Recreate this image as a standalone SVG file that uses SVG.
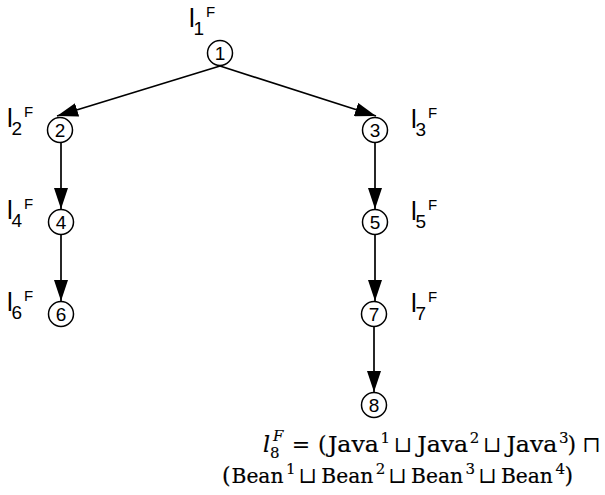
<svg xmlns="http://www.w3.org/2000/svg" width="605" height="495" viewBox="0 0 605 495">
<defs>
<marker id="ah" markerUnits="userSpaceOnUse" markerWidth="22" markerHeight="14" refX="21" refY="7" orient="auto">
<path d="M0,0 L21,7 L0,14 Z" fill="#000"/>
</marker>
<style>
.nd circle{fill:#fff;stroke:#000;stroke-width:1.5}
.nd text{font-family:"Liberation Sans",Arial,sans-serif;font-size:19px;text-anchor:middle;fill:#000}
.lb{font-family:"Liberation Sans",Arial,sans-serif;fill:#000}
.lb .l{font-size:26px}
.lb .d{font-size:19px}
.lb .f{font-size:15px}
.cn line{stroke:#000;stroke-width:1.7;marker-end:url(#ah)}
.fm text{font-family:"DejaVu Serif","Liberation Serif",serif;font-size:22px;fill:#000;stroke:#000;stroke-width:0.2}
.fm .bn{font-size:20.5px}
.fm .sp{font-size:15px;stroke-width:0.15}
.fm .op{text-anchor:middle;stroke:none}
</style>
</defs>
<rect width="605" height="495" fill="#fff"/>
<g id="connectors" class="cn">
<line x1="220" y1="66" x2="57" y2="116"/>
<line x1="220" y1="66" x2="376" y2="116"/>
<line x1="61" y1="143" x2="61" y2="209"/>
<line x1="61" y1="235" x2="61" y2="301"/>
<line x1="375" y1="143" x2="375" y2="209"/>
<line x1="375" y1="235" x2="375" y2="301"/>
<line x1="374" y1="327" x2="374" y2="392"/>
</g>
<g id="n1" class="nd"><circle cx="220" cy="53" r="12.5"/><text x="220" y="60">1</text></g>
<g id="n2" class="nd"><circle cx="60" cy="130" r="12.5"/><text x="60" y="137">2</text></g>
<g id="n3" class="nd"><circle cx="375" cy="130" r="12.5"/><text x="375" y="137">3</text></g>
<g id="n4" class="nd"><circle cx="61" cy="222" r="12.5"/><text x="61" y="229">4</text></g>
<g id="n5" class="nd"><circle cx="375" cy="222" r="12.5"/><text x="375" y="229">5</text></g>
<g id="n6" class="nd"><circle cx="61" cy="314" r="12.5"/><text x="61" y="321">6</text></g>
<g id="n7" class="nd"><circle cx="374" cy="314" r="12.5"/><text x="374" y="321">7</text></g>
<g id="n8" class="nd"><circle cx="374" cy="405" r="12.5"/><text x="374" y="412">8</text></g>
<g id="labels" class="lb">
<g id="lab1" transform="translate(189,27)"><text class="l" x="0" y="0">l</text><text class="d" x="4.5" y="8">1</text><text class="f" x="17" y="-10">F</text></g>
<g id="lab2" transform="translate(7,127)"><text class="l" x="0" y="0">l</text><text class="d" x="4.5" y="8">2</text><text class="f" x="17" y="-10">F</text></g>
<g id="lab3" transform="translate(411,128)"><text class="l" x="0" y="0">l</text><text class="d" x="4.5" y="8">3</text><text class="f" x="17" y="-10">F</text></g>
<g id="lab4" transform="translate(7,219)"><text class="l" x="0" y="0">l</text><text class="d" x="4.5" y="8">4</text><text class="f" x="17" y="-10">F</text></g>
<g id="lab5" transform="translate(411,220)"><text class="l" x="0" y="0">l</text><text class="d" x="4.5" y="8">5</text><text class="f" x="17" y="-10">F</text></g>
<g id="lab6" transform="translate(7,311)"><text class="l" x="0" y="0">l</text><text class="d" x="4.5" y="8">6</text><text class="f" x="17" y="-10">F</text></g>
<g id="lab7" transform="translate(411,312)"><text class="l" x="0" y="0">l</text><text class="d" x="4.5" y="8">7</text><text class="f" x="17" y="-10">F</text></g>
</g>
<g id="formula" class="fm">
<text x="263" y="452" font-style="italic">l</text>
<text class="sp" x="270" y="458">8</text>
<text class="sp" x="273" y="441" font-style="italic">F</text>
<text class="op" x="301" y="452">=</text>
<text x="318" y="452">(</text>
<text x="327.9" y="452" textLength="51" lengthAdjust="spacingAndGlyphs">Java</text><text class="sp" x="380.5" y="443">1</text>
<text class="op" x="403" y="452">⊔</text>
<text x="417.2" y="452" textLength="51" lengthAdjust="spacingAndGlyphs">Java</text><text class="sp" x="469.8" y="443">2</text>
<text class="op" x="492.3" y="452">⊔</text>
<text x="506.4" y="452" textLength="51" lengthAdjust="spacingAndGlyphs">Java</text><text class="sp" x="559" y="443">3</text>
<text x="567.5" y="452">)</text>
<text class="op" x="591.4" y="452">⊓</text>
<text x="222" y="483">(</text>
<text class="bn" x="231.5" y="483" textLength="52" lengthAdjust="spacingAndGlyphs">Bean</text><text class="sp" x="286" y="474">1</text>
<text class="op" x="307.8" y="483">⊔</text>
<text class="bn" x="321.3" y="483" textLength="52" lengthAdjust="spacingAndGlyphs">Bean</text><text class="sp" x="375.8" y="474">2</text>
<text class="op" x="397.5" y="483">⊔</text>
<text class="bn" x="411.1" y="483" textLength="52" lengthAdjust="spacingAndGlyphs">Bean</text><text class="sp" x="465.6" y="474">3</text>
<text class="op" x="487.4" y="483">⊔</text>
<text class="bn" x="500.9" y="483" textLength="52" lengthAdjust="spacingAndGlyphs">Bean</text><text class="sp" x="555.4" y="474">4</text>
<text x="564.5" y="483">)</text>
</g>
</svg>
